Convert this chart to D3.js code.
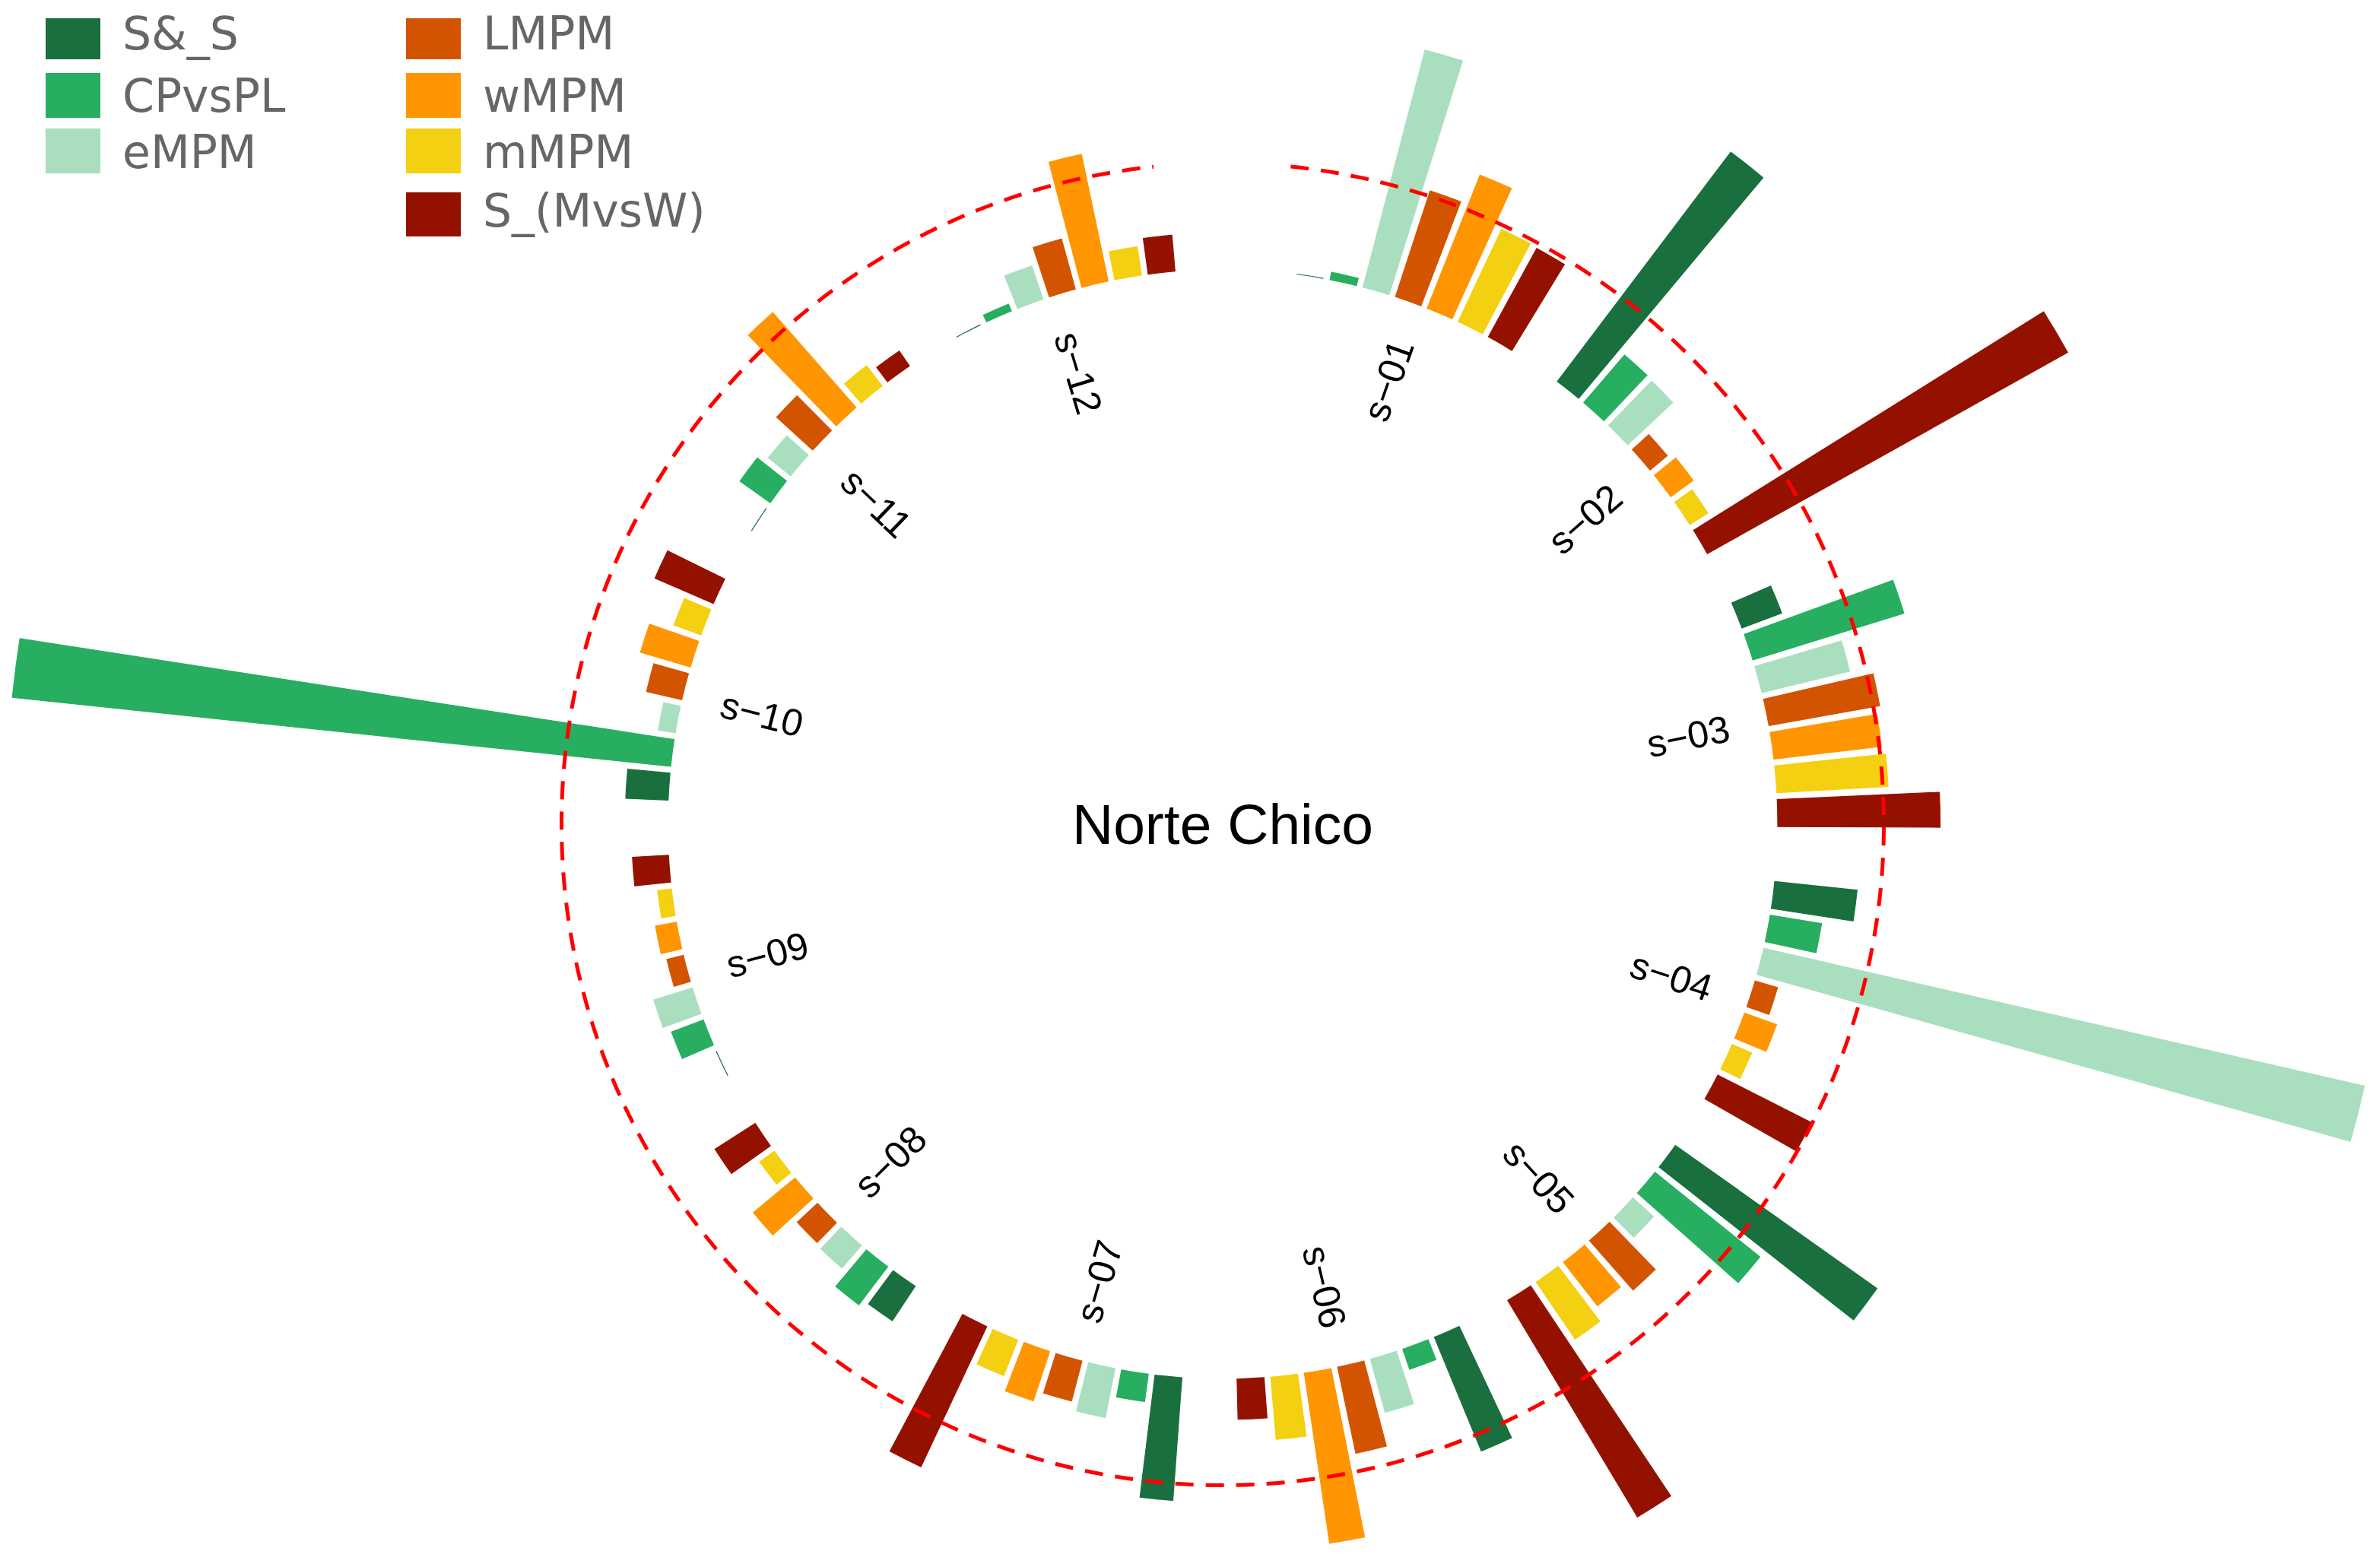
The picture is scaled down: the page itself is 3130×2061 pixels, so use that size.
<!DOCTYPE html>
<html>
<head>
<meta charset="utf-8">
<script src="https://cdn.jsdelivr.net/npm/d3@7"></script>
<style>
  html, body { margin: 0; padding: 0; background: #ffffff; }
  svg { display: block; }
</style>
</head>
<body>
<div id="chart"></div>
<script>
// ---------------- data ----------------
const groups = ["s\u221201","s\u221202","s\u221203","s\u221204","s\u221205","s\u221206","s\u221207","s\u221208","s\u221209","s\u221210","s\u221211","s\u221212"];
const series = ["S&_S","CPvsPL","eMPM","LMPM","wMPM","mMPM","S_(MvsW)"];
const seriesColors = ["#196F3D","#27AE60","#A9DFBF","#D35400","#FF9500","#F4D012","#941100"];

const valS_S    = [0.00, 2.71, 0.40, 0.78, 2.33, 1.16, 1.16, 0.39, 0.00, 0.40, 0.00, 0.00];
const valCPvsPL = [0.07, 0.59, 1.49, 0.49, 1.27, 0.20, 0.26, 0.45, 0.32, 6.24, 0.35, 0.07];
const valeMPM   = [2.31, 0.58, 0.85, 5.81, 0.26, 0.52, 0.47, 0.28, 0.38, 0.16, 0.27, 0.33];
const valLMPM   = [1.05, 0.21, 1.06, 0.22, 0.62, 0.83, 0.39, 0.26, 0.16, 0.34, 0.46, 0.49];
const valwMPM   = [1.35, 0.26, 1.02, 0.32, 0.52, 1.62, 0.49, 0.51, 0.20, 0.49, 1.19, 1.22];
const valmMPM   = [0.96, 0.20, 1.05, 0.20, 0.65, 0.59, 0.36, 0.17, 0.13, 0.27, 0.24, 0.27];
const valS_MvsW = [0.95, 3.89, 1.53, 0.99, 2.38, 0.38, 1.46, 0.45, 0.34, 0.60, 0.17, 0.34];

const threshold = 1;           // dashed reference circle
const centerTitle = "Norte Chico";

// ---------------- layout ----------------
const W = 3130, H = 2061;
const cx = 1608, cy = 1084;
const R0 = 730, unitPx = 139.5;
const deg = Math.PI / 180;
const firstGroupStart = 7.315, groupStep = 29.425, seriesSpan = 24.43;
const dashStart = 5.9, dashEnd = 354.0;
const labelR = 568;

const seriesValues = [valS_S, valCPvsPL, valeMPM, valLMPM, valwMPM, valmMPM, valS_MvsW];
const rows = [];
series.forEach((s, si) => {
  groups.forEach((g, gi) => rows.push({ group: g, series: s, value: seriesValues[si][gi] }));
});

const svg = d3.select("#chart").append("svg")
  .attr("width", W).attr("height", H)
  .attr("viewBox", `0 0 ${W} ${H}`);
svg.append("rect").attr("width", W).attr("height", H).attr("fill", "#ffffff");

const rScale = d3.scaleLinear().domain([0, 1]).range([R0, R0 + unitPx]);
const groupScale = d3.scaleBand().domain(groups)
  .range([firstGroupStart * deg, (firstGroupStart + groups.length * groupStep) * deg]);
const seriesScale = d3.scaleBand().domain(series)
  .range([0, seriesSpan * deg]).paddingInner(0.2).paddingOuter(0.1);
const color = d3.scaleOrdinal().domain(series).range(seriesColors);

const g = svg.append("g").attr("transform", `translate(${cx},${cy})`);

const arc = d3.arc()
  .innerRadius(R0)
  .outerRadius(d => rScale(d.value))
  .startAngle(d => groupScale(d.group) + seriesScale(d.series))
  .endAngle(d => groupScale(d.group) + seriesScale(d.series) + seriesScale.bandwidth());

g.selectAll("path.bar").data(rows).join("path")
  .attr("class", "bar")
  .attr("d", arc)
  .attr("fill", d => color(d.series))
  .attr("stroke", d => color(d.series))
  .attr("stroke-width", 1.2);

// dashed reference circle
const p = d3.path();
p.arc(0, 0, rScale(threshold), dashStart * deg - Math.PI / 2, dashEnd * deg - Math.PI / 2, false);
g.append("path")
  .attr("d", p.toString())
  .attr("fill", "none")
  .attr("stroke", "#FF0000")
  .attr("stroke-width", 5)
  .attr("stroke-dasharray", "24 16");

// group labels
groups.forEach(gr => {
  const a = (groupScale(gr) + seriesSpan * deg / 2) / deg;
  const flip = a > 180;
  g.append("text")
    .attr("transform", `rotate(${a - 90}) translate(${labelR},0)` + (flip ? " rotate(180)" : ""))
    .attr("text-anchor", flip ? "end" : "start")
    .attr("dy", "0.55em")
    .attr("font-family", "'Liberation Sans', Arial, Helvetica, sans-serif")
    .attr("font-size", 50)
    .attr("fill", "#000000")
    .text(gr);
});

// centre title
svg.append("text")
  .attr("x", cx).attr("y", 1110)
  .attr("text-anchor", "middle")
  .attr("font-family", "'Liberation Sans', Arial, Helvetica, sans-serif")
  .attr("font-size", 75)
  .attr("fill", "#000000")
  .text(centerTitle);

// legend
const legendPos = [
  { x: 60,  y: 24,  h: 54, ty: 65 },
  { x: 60,  y: 96,  h: 59, ty: 147 },
  { x: 60,  y: 169, h: 59, ty: 221 },
  { x: 534, y: 24,  h: 54, ty: 65 },
  { x: 534, y: 96,  h: 59, ty: 147 },
  { x: 534, y: 169, h: 59, ty: 221 },
  { x: 534, y: 253, h: 58, ty: 298 }
];
const lg = svg.append("g");
series.forEach((s, i) => {
  const L = legendPos[i];
  lg.append("rect").attr("x", L.x).attr("y", L.y).attr("width", 72).attr("height", L.h)
    .attr("fill", color(s));
  lg.append("text").attr("x", L.x + 101).attr("y", L.ty)
    .attr("font-family", "'DejaVu Sans', sans-serif")
    .attr("font-size", 60)
    .attr("fill", "#666666")
    .text(s);
});
</script>
</body>
</html>
